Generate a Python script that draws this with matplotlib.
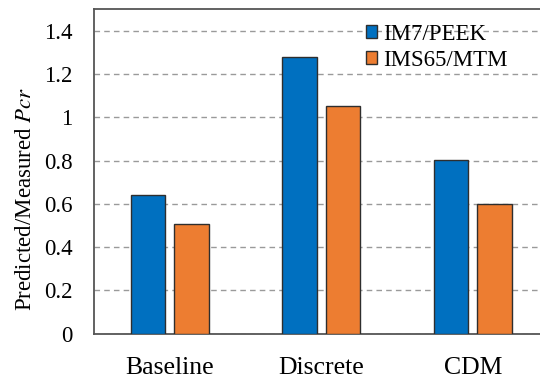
import numpy as np
import matplotlib
matplotlib.use("Agg")
import matplotlib.pyplot as plt

plt.rcParams["font.family"] = ["Liberation Serif", "DejaVu Serif"]
plt.rcParams["mathtext.fontset"] = "stix"

categories = ["Baseline", "Discrete", "CDM"]
series_names = ["IM7/PEEK", "IMS65/MTM"]
im7_peek = [0.64, 1.28, 0.805]
ims65_mtm = [0.505, 1.054, 0.60]
y_ticks = [0, 0.2, 0.4, 0.6, 0.8, 1, 1.2, 1.4]
y_tick_labels = ["0", "0.2", "0.4", "0.6", "0.8", "1", "1.2", "1.4"]

colors = ["#0070C0", "#ED7D31"]
edge = "#2e2e2e"

fig = plt.figure(figsize=(5.40, 3.82), dpi=100)
ax = fig.add_axes([94 / 540, 1 - 333.7 / 382, 454.5 / 540, (333.7 - 9.3) / 382])

x = np.arange(len(categories))
width = 0.227
offset = 0.143
ax.bar(x - offset, im7_peek, width, color=colors[0], edgecolor=edge,
       linewidth=1.0, label=series_names[0], zorder=3)
ax.bar(x + offset, ims65_mtm, width, color=colors[1], edgecolor=edge,
       linewidth=1.0, label=series_names[1], zorder=3)

ax.set_xlim(-0.5, 2.5)
ax.set_ylim(0, 1.5)
ax.set_xticks(x)
ax.set_xticklabels(categories, fontsize=18.5)
ax.set_yticks(y_ticks)
ax.set_yticklabels(y_tick_labels, fontsize=16.5)
ax.tick_params(axis="y", length=0, pad=15.5)
ax.tick_params(axis="x", length=0, pad=16.5)

ax.yaxis.grid(True, linestyle=(0, (4, 3)), color="#9a9a9a", linewidth=1.0, zorder=0)
ax.set_axisbelow(True)

for side in ["left", "bottom", "top"]:
    ax.spines[side].set_color("#555555")
    ax.spines[side].set_linewidth(1.3)
ax.spines["right"].set_visible(False)

ax.set_ylabel("Predicted/Measured $\\mathit{Pcr}$", fontsize=16.5)
ax.yaxis.set_label_coords(-0.128, 0.415)

leg = fig.legend(loc="upper left", bbox_to_anchor=(366 / 540, 1 - 24 / 382),
                 frameon=False, fontsize=16.5, handlelength=0.5, handleheight=0.5,
                 handletextpad=0.25, labelspacing=0.2, borderpad=0, borderaxespad=0)

fig.savefig("out.png", dpi=100)
